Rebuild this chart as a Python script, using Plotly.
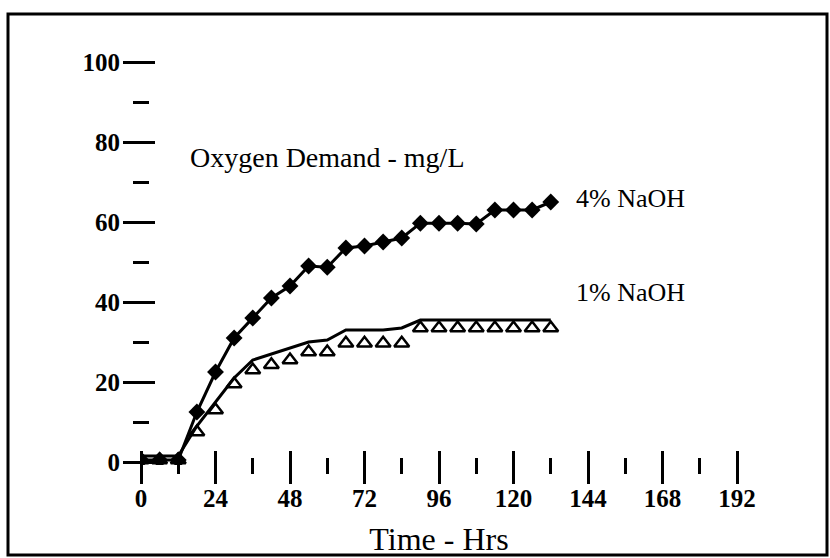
import plotly.graph_objects as go

# ---- data ----
t_hours = [0, 6, 12, 18, 24, 30, 36, 42, 48, 54, 60, 66, 72, 78, 84, 90,
           96, 102, 108, 114, 120, 126, 132]
naoh4 = [0.5, 0.5, 0.5, 12.5, 22.5, 31, 36, 41, 44, 49, 48.7, 53.5, 54, 55,
         56, 59.7, 59.7, 59.7, 59.5, 63, 63, 63, 65]
naoh1_points = [0.5, 0.5, 0.5, 7.5, 13, 19.5, 23, 24.3, 25.5, 27.5, 27.5,
                29.7, 29.7, 29.7, 29.7, 33.5, 33.5, 33.5, 33.5, 33.5, 33.5,
                33.5, 33.5]
naoh1_curve = [1.5, 1.5, 1.5, 9, 15, 21, 25.5, 27, 28.5, 30, 30.5, 33, 33,
               33, 33.5, 35.5, 35.5, 35.5, 35.5, 35.5, 35.5, 35.5, 35.5]

series_labels = ["4% NaOH", "1% NaOH"]
label_y = [66, 42.5]
chart_title = "Oxygen Demand - mg/L"
x_title = "Time - Hrs"
x_ticks = [0, 24, 48, 72, 96, 120, 144, 168, 192]
x_minor = [12, 36, 60, 84, 108, 132, 156, 180]
y_ticks = [0, 20, 40, 60, 80, 100]
y_minor = [10, 30, 50, 70, 90]

SERIF = "Liberation Serif, Times New Roman, serif"
XR = [0, 192]
YR = [-0.75, 101]

# page geometry (pixels)
W, H = 830, 558
L, R, T, B = 100, 93, 58, 60
PW, PH = W - L - R, H - T - B
PLOT_LEFT, PLOT_BOTTOM = 141, 465


def px_x(p):
    return (p - L) / PW


def px_y(p):
    return (H - B - p) / PH


fig = go.Figure()

fig.add_trace(go.Scatter(
    x=t_hours, y=naoh1_curve, mode="lines",
    line=dict(color="black", width=3), xaxis="x2", yaxis="y2",
    showlegend=False, hoverinfo="skip"))
fig.add_trace(go.Scatter(
    x=t_hours, y=naoh1_points, mode="markers",
    marker=dict(symbol="triangle-up-open", size=13, color="black",
                line=dict(color="black", width=2.5)),
    showlegend=False))
fig.add_trace(go.Scatter(
    x=t_hours, y=naoh4, mode="lines+markers",
    line=dict(color="black", width=3),
    marker=dict(symbol="diamond", size=13, color="black"),
    showlegend=False))

tickfont = dict(family=SERIF, size=25, color="black", weight="bold")
base = dict(showgrid=False, zeroline=False, showline=False, automargin=False,
            tickwidth=3, tickcolor="black", ticks="outside")

fig.update_layout(
    width=W, height=H,
    paper_bgcolor="white", plot_bgcolor="rgba(0,0,0,0)",
    margin=dict(l=L, r=R, t=T, b=B, autoexpand=False),
    xaxis=dict(**base, range=XR, domain=[px_x(PLOT_LEFT), 1],
               anchor="free", position=px_y(450),
               tickmode="array", tickvals=x_ticks, ticklen=33,
               tickfont=tickfont, ticklabelstandoff=-7,
               title=dict(text=x_title, font=dict(family=SERIF, size=32, color="black"),
                          standoff=16)),
    yaxis=dict(**base, range=YR, domain=[px_y(PLOT_BOTTOM), 1],
               anchor="free", position=px_x(155),
               tickmode="array", tickvals=y_ticks, ticklen=32,
               tickfont=tickfont, ticklabelstandoff=-2),
    xaxis2=dict(**base, range=XR, overlaying="x", anchor="free",
                position=px_y(457), tickmode="array", tickvals=x_minor,
                ticklen=16, showticklabels=False),
    yaxis2=dict(**base, range=YR, overlaying="y", anchor="free", side="left",
                position=px_x(149), tickmode="array", tickvals=y_minor,
                ticklen=16, showticklabels=False),
    annotations=[
        dict(text=chart_title, x=px_x(188), y=px_y(157),
             xref="paper", yref="paper",
             showarrow=False, xanchor="left", yanchor="middle",
             font=dict(family=SERIF, size=28, color="black")),
        dict(text=series_labels[0], x=t_hours[-1], y=label_y[0], xref="x", yref="y",
             showarrow=False, xanchor="left", yanchor="middle", xshift=23,
             font=dict(family=SERIF, size=26, color="black")),
        dict(text=series_labels[1], x=t_hours[-1], y=label_y[1], xref="x", yref="y",
             showarrow=False, xanchor="left", yanchor="middle", xshift=23,
             font=dict(family=SERIF, size=26, color="black")),
    ],
    shapes=[dict(type="rect", xref="paper", yref="paper",
                 x0=px_x(8), x1=px_x(827), y0=px_y(555), y1=px_y(14),
                 line=dict(color="black", width=3))],
)

fig.write_html("out.html", config={"displayModeBar": False},
               post_script="document.body.style.margin='0';")
